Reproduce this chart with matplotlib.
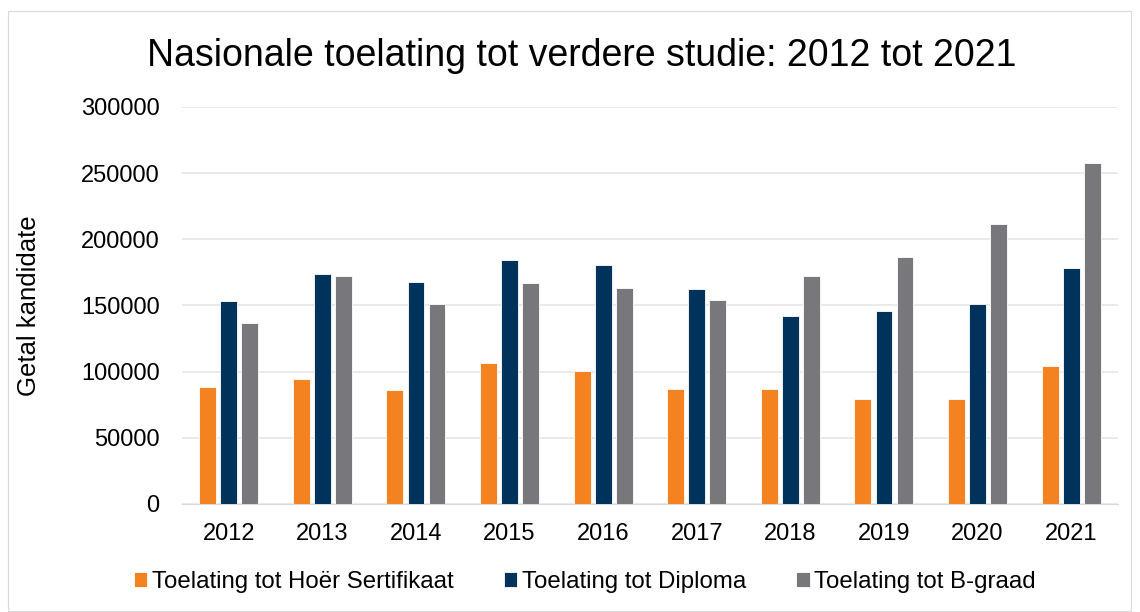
import numpy as np
import matplotlib
matplotlib.use('Agg')
from matplotlib import pyplot as plt
from matplotlib.patches import Rectangle

plt.rcParams['font.family'] = ['Liberation Sans', 'DejaVu Sans']

years = ['2012', '2013', '2014', '2015', '2016', '2017', '2018', '2019', '2020', '2021']
hoer_sertifikaat = [88700, 94800, 86400, 106200, 100800, 86600, 86600, 79500, 79500, 103900]
diploma = [153600, 173900, 167600, 184500, 180500, 162300, 141900, 145500, 151000, 178500]
b_graad = [136600, 172400, 151000, 167000, 163000, 153900, 172600, 186800, 211700, 257400]

series = [
    ('Toelating tot Hoër Sertifikaat', hoer_sertifikaat, '#F58220'),
    ('Toelating tot Diploma', diploma, '#00335B'),
    ('Toelating tot B-graad', b_graad, '#78787C'),
]

fig = plt.figure(figsize=(11.4, 6.12), dpi=100)
ax = fig.add_axes([0.1596, 0.1765, 0.8211, 0.6487])

x = np.arange(len(years))
width = 0.18
step = 0.225
for i, (name, vals, col) in enumerate(series):
    ax.bar(x + (i - 1) * step, vals, width, color=col, label=name,
           edgecolor='white', linewidth=0.6, zorder=3)

ax.set_xlim(-0.5, len(years) - 0.5)
ax.set_ylim(0, 300000)
ax.set_yticks(range(0, 300001, 50000))
ax.set_xticks(x)
ax.set_xticklabels(years)
ax.tick_params(axis='both', length=0, labelsize=17)
ax.tick_params(axis='x', pad=14)
ax.tick_params(axis='y', pad=16)
ax.grid(axis='y', color='#E6E6E6', linewidth=1.2, zorder=0)
for s in ['top', 'right', 'left']:
    ax.spines[s].set_visible(False)
ax.spines['bottom'].set_color('#D9D9D9')

# y-label: x coordinate is the right edge of the rotated text
ax.set_ylabel('Getal kandidate', fontsize=18.5)
ax.yaxis.set_label_coords(-(182 - 41) / 936, 0.5)
fig.text(0.51, 0.908, 'Nasionale toelating tot verdere studie: 2012 tot 2021',
         ha='center', va='center', fontsize=27)

fig.legend(loc='center', bbox_to_anchor=(0.513, 0.049), ncol=3, frameon=False,
           fontsize=17.3, handlelength=0.55, handleheight=0.55, handletextpad=0.2,
           columnspacing=2.1)

fig.patches.append(Rectangle((8 / 1140, 1 / 612), 1123 / 1140, 600 / 612,
                             transform=fig.transFigure, fill=False,
                             edgecolor='#D9D9D9', linewidth=0.8))

plt.savefig('out.png', dpi=100)
